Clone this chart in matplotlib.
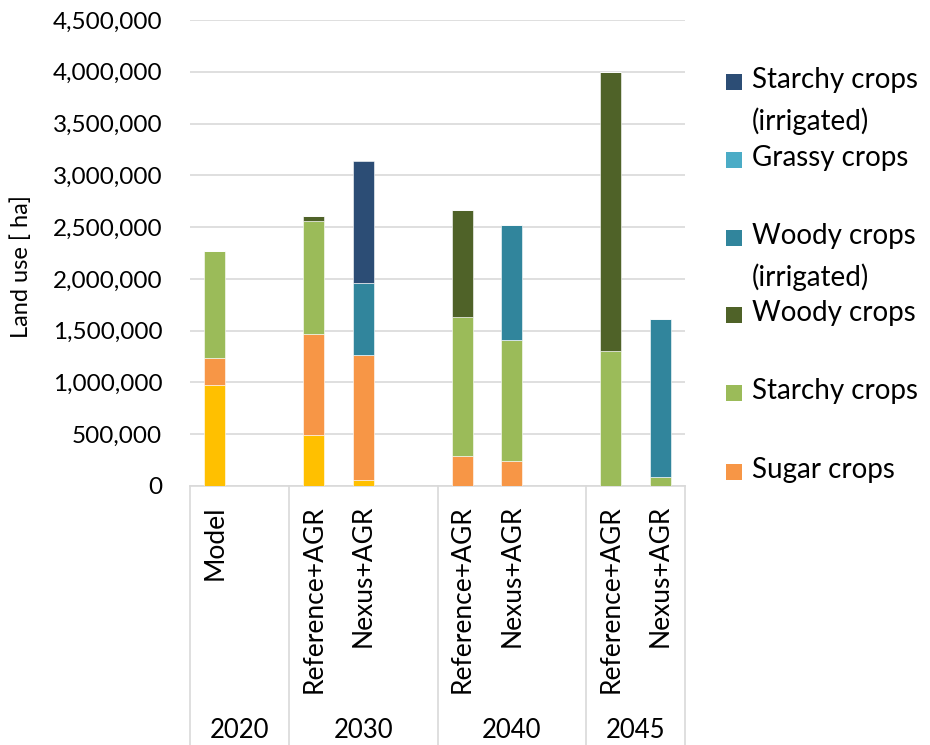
import matplotlib
matplotlib.use("Agg")
import matplotlib.pyplot as plt
from matplotlib.patches import Rectangle

plt.rcParams['font.family'] = ['Lato', 'DejaVu Sans']

# Category slots along the x axis (blank slots separate the year groups)
slot_labels = ["Model", "", "Reference+AGR", "Nexus+AGR", "",
               "Reference+AGR", "Nexus+AGR", "", "Reference+AGR", "Nexus+AGR"]
years = ["2020", "2030", "2040", "2045"]
year_slots = [(0, 2), (2, 5), (5, 8), (8, 10)]

# Land use per crop type [ha], one value per slot
oil_crops = [973000, 0, 490000, 55000, 0, 0, 0, 0, 0, 0]
sugar_crops = [267000, 0, 982000, 1208000, 0, 293000, 245000, 0, 0, 0]
starchy_crops = [1028000, 0, 1089000, 0, 0, 1340000, 1166000, 0, 1305000, 87000]
woody_crops = [0, 0, 45000, 0, 0, 1028000, 0, 0, 2695000, 0]
woody_irrigated = [0, 0, 0, 693000, 0, 0, 1105000, 0, 0, 1530000]
grassy_crops = [0, 0, 0, 0, 0, 0, 0, 0, 0, 0]
starchy_irrigated = [0, 0, 0, 1179000, 0, 0, 0, 0, 0, 0]

series = [
    ("Oil crops", oil_crops, "#FFC000"),
    ("Sugar crops", sugar_crops, "#F79646"),
    ("Starchy crops", starchy_crops, "#9BBB59"),
    ("Woody crops", woody_crops, "#4F6228"),
    ("Woody crops\n(irrigated)", woody_irrigated, "#31859C"),
    ("Grassy crops", grassy_crops, "#4BACC6"),
    ("Starchy crops\n(irrigated)", starchy_irrigated, "#2C4D75"),
]
legend_order = ["Starchy crops\n(irrigated)", "Grassy crops", "Woody crops\n(irrigated)",
                "Woody crops", "Starchy crops", "Sugar crops"]

W, H = 930, 745
fig = plt.figure(figsize=(W / 100, H / 100), dpi=100)
ax_left, ax_right, ax_top, ax_bottom = 190, 685, 20, 486
ax = fig.add_axes([ax_left / W, 1 - ax_bottom / H,
                   (ax_right - ax_left) / W, (ax_bottom - ax_top) / H])

x = list(range(len(slot_labels)))
bottom = [0] * len(x)
for name, vals, color in series:
    ax.bar(x, vals, width=0.43, bottom=bottom, color=color,
           edgecolor="white", linewidth=0.4, zorder=3)
    bottom = [b + v for b, v in zip(bottom, vals)]

ax.set_xlim(-0.5, len(x) - 0.5)
ax.set_ylim(0, 4500000)
ax.set_yticks(range(0, 4500001, 500000))
ax.yaxis.set_major_formatter(matplotlib.ticker.FuncFormatter(lambda v, p: f"{int(v):,}"))
ax.tick_params(axis="y", length=0, pad=20, labelsize=17.5, labelcolor="#000000")
ax.set_xticks([])
ax.grid(axis="y", color="#D9D9D9", linewidth=1.2, zorder=0)
for s in ("left", "right", "top"):
    ax.spines[s].set_visible(False)
ax.spines["bottom"].set_color("#D9D9D9")
ax.spines["bottom"].set_linewidth(1.2)

ax.set_ylabel("Land use [ ha]", fontsize=17)
ax.yaxis.set_label_coords(-158 / (ax_right - ax_left), 0.47)

# Multi-level category axis: scenario labels, year labels and separators
trans = ax.get_xaxis_transform()
ax_h = ax_bottom - ax_top
for xi, lab in zip(x, slot_labels):
    if lab:
        ax.text(xi, -19 / ax_h, lab, rotation=90, ha="center", va="top",
                fontsize=19, transform=trans)
for (a, b), yr in zip(year_slots, years):
    ax.text((a + b - 1) / 2, -(730 - ax_bottom) / ax_h, yr, ha="center", va="center",
            fontsize=18.5, transform=trans, clip_on=False)
for edge in [-0.5, 1.5, 4.5, 7.5, 9.5]:
    ax.plot([edge, edge], [0, -(H - ax_bottom + 5) / ax_h], color="#D9D9D9",
            linewidth=1.2, transform=trans, clip_on=False)

# Legend drawn as a column of swatches with wrapped labels
colors = {name: color for name, _, color in series}
first_line_y = [82, 160, 238, 315, 393, 472]
for name, yc in zip(legend_order, first_line_y):
    fig.patches.append(Rectangle((726 / W, 1 - (yc + 8) / H), 16 / W, 16 / H,
                                 facecolor=colors[name], edgecolor="none",
                                 transform=fig.transFigure))
    fig.text(752 / W, 1 - (yc - 15) / H, name, ha="left", va="top",
             fontsize=20, linespacing=1.62)

fig.savefig("out.png", dpi=100)
